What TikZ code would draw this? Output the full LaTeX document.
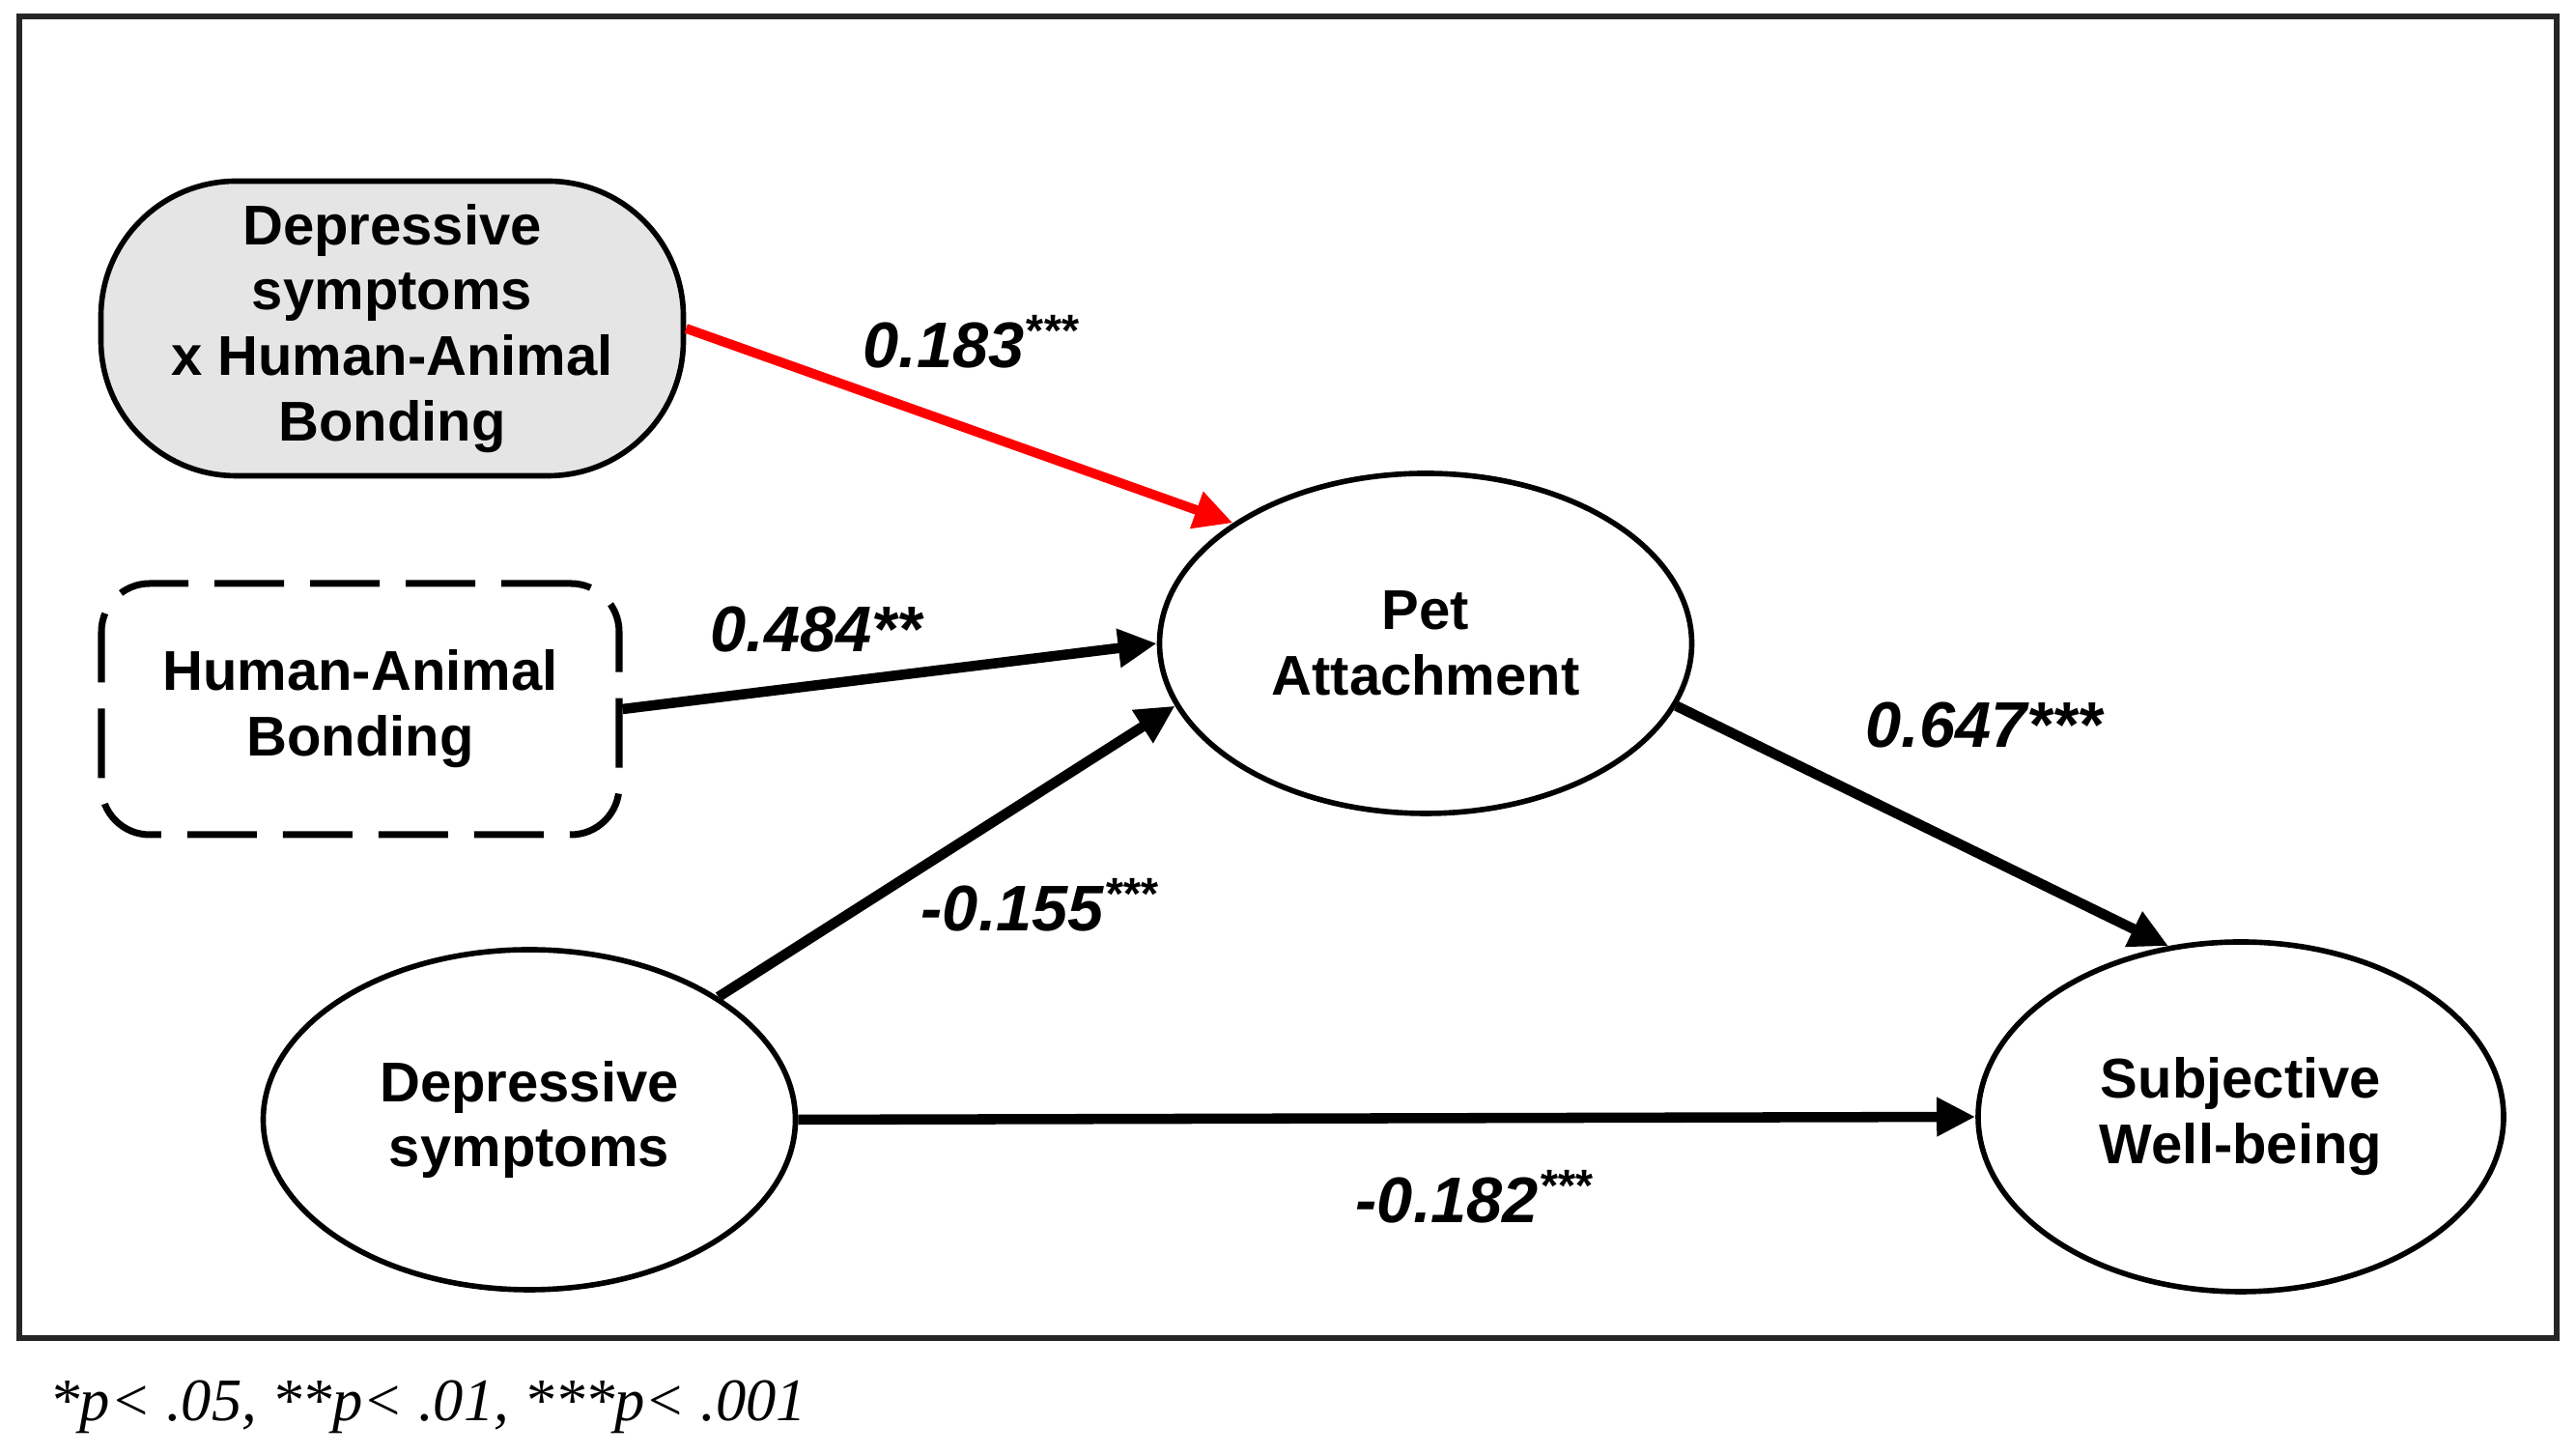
\documentclass[tikz,border=0pt]{standalone}
\usepackage{fontspec}
\setsansfont{Liberation Sans}
\newfontfamily\notefont{Liberation Serif}
\usepackage{tikz}
\usetikzlibrary{shapes}
\usetikzlibrary{arrows.meta}
\tikzset{
  pathnode/.style = {align=center, inner sep=0pt, text centered,
    font=\fontsize{16.5}{19.3}\selectfont\sffamily\bfseries},
  latent_node/.style = {pathnode, ellipse, draw=black, line width=1.6pt,
    minimum width=5.51cm, minimum height=3.52cm},% variable latente
  inter_node/.style = {pathnode, rectangle, rounded corners=1.4cm, draw=black,
    fill=black!10, line width=1.6pt, minimum width=6.03cm, minimum height=3.05cm},% interaction
  mod_node/.style = {pathnode, rectangle, rounded corners=0.5cm, draw=black,
    dash pattern=on 0.72cm off 0.27cm, line width=2pt,
    minimum width=5.36cm, minimum height=2.6cm},% moderateur
  path_arrow/.style = {-{Triangle[length=0.4cm, width=0.38cm]}, line width=3pt},
  coef/.style = {anchor=base west, inner sep=0pt,
    font=\fontsize{19}{22}\selectfont\sffamily\bfseries\itshape}
}
\begin{document}
\begin{tikzpicture}
  \useasboundingbox (0,0) rectangle (26.67,15.05);
  \draw[line width=1.6pt, black!85] (0.20,1.20) rectangle (26.47,14.88);
  % variables
  \node [inter_node] (inter) at (4.06,11.65) {Depressive\\symptoms\\x Human-Animal\\Bonding};
  \node [mod_node] (hab) at (3.73,7.71) {Human-Animal\\Bonding};
  \node [latent_node] (pet) at (14.76,8.39) {Pet\\Attachment};
  \node [latent_node] (dep) at (5.48,3.46) {Depressive\\symptoms};
  \node [latent_node, minimum width=5.44cm, minimum height=3.62cm] (swb) at (23.20,3.49) {Subjective\\Well-being};
  % chemins
  \draw [path_arrow, red, line width=2.8pt] (inter.east) -- (pet.148);
  \draw [path_arrow] (hab.east) -- (pet.west);
  \draw [path_arrow] (dep.33) -- (pet.194);
  \draw [path_arrow] (pet.-14) -- (swb.113);
  \draw [path_arrow] (dep.east) -- (swb.west);
  % coefficients
  \node [coef] (c_inter) at (8.93,11.24) {0.183\textsuperscript{***}};
  \node [coef] (c_hab) at (7.35,8.30) {0.484**};
  \node [coef] (c_pet) at (19.31,7.31) {0.647***};
  \node [coef] (c_dep) at (9.53,5.41) {-0.155\textsuperscript{***}};
  \node [coef] (c_swb) at (14.03,2.39) {-0.182\textsuperscript{***}};
  \node [anchor=base west, inner sep=0pt, font=\fontsize{17.8}{20}\selectfont\notefont\itshape]
    (note) at (0.51,0.34) {*p< .05, **p< .01, ***p< .001};
\end{tikzpicture}
\end{document}
